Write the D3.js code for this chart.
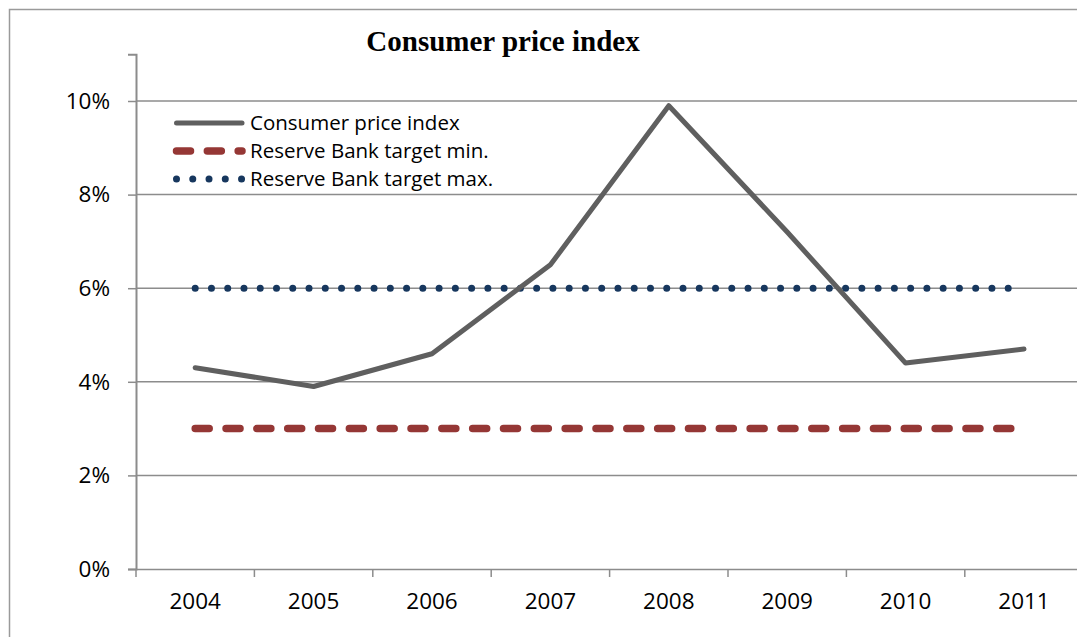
<!DOCTYPE html>
<html><head><meta charset="utf-8">
<script src="https://cdn.jsdelivr.net/npm/d3@7"></script>
<style>body{margin:0;background:#fff}svg{display:block}</style>
</head><body>
<script>
const years = ["2004","2005","2006","2007","2008","2009","2010","2011"];
const cpi = [4.3, 3.9, 4.6, 6.5, 9.9, 7.2, 4.4, 4.7];
const targetMin = [3, 3, 3, 3, 3, 3, 3, 3];
const targetMax = [6, 6, 6, 6, 6, 6, 6, 6];
const yTicks = [0, 2, 4, 6, 8, 10];
const seriesNames = ["Consumer price index", "Reserve Bank target min.", "Reserve Bank target max."];

const W = 1077, H = 637;
const svg = d3.select("body").append("svg").attr("width", W).attr("height", H);
const font = "'Open Sans', sans-serif";

svg.append("rect").attr("x", 9.5).attr("y", 9.5).attr("width", 1200).attr("height", 800)
  .attr("fill", "none").attr("stroke", "#9a9a9a").attr("stroke-width", 1.5);

const x = d3.scaleBand().domain(years).range([136, 136 + 8 * 118.4]);
const y = d3.scaleLinear().domain([0, 11]).range([569, 54.2]);

// gridlines
svg.append("g").selectAll("line").data(yTicks.filter(d => d > 0)).join("line")
  .attr("x1", 136).attr("x2", W + 10).attr("y1", d => y(d)).attr("y2", d => y(d))
  .attr("stroke", "#8c8c8c").attr("stroke-width", 1.5);

// y axis
const yAxis = svg.append("g").attr("transform", "translate(136,0)")
  .call(d3.axisLeft(y).tickValues(yTicks).tickSize(8).tickPadding(18).tickFormat(d => d + "%"));
yAxis.select(".domain").attr("stroke", "#8c8c8c").attr("stroke-width", 2);
yAxis.selectAll(".tick line").attr("stroke", "#8c8c8c").attr("stroke-width", 1.5);
yAxis.selectAll("text").attr("font-family", font).attr("font-size", 22.5).attr("fill", "#000");

// x axis
const xAxis = svg.append("g").attr("transform", "translate(0,569)")
  .call(d3.axisBottom(x).tickSize(0).tickPadding(24));
xAxis.select(".domain").attr("stroke", "#8c8c8c").attr("stroke-width", 1.5);
xAxis.selectAll("text").attr("font-family", font).attr("font-size", 22.5).attr("fill", "#000");
const bounds = years.map(d => x(d)).concat([x(years[7]) + x.bandwidth()]);
svg.append("g").selectAll("line").data(bounds).join("line")
  .attr("x1", d => d).attr("x2", d => d).attr("y1", 569).attr("y2", 577)
  .attr("stroke", "#8c8c8c").attr("stroke-width", 1.5);

const cx = (d, i) => x(years[i]) + x.bandwidth() / 2;
const line = d3.line().x(cx).y(d => y(d));

const styles = [
  {stroke: "#5f5f5f", width: 5, dash: null},
  {stroke: "#953735", width: 7.5, dash: "14,16.83"},
  {stroke: "#17375e", width: 7, dash: "0,16.26"}
];

[[targetMin, 1], [targetMax, 2], [cpi, 0]].forEach(([data, k]) => {
  const s = styles[k];
  svg.append("path").datum(data).attr("d", line).attr("fill", "none")
    .attr("stroke", s.stroke).attr("stroke-width", s.width)
    .attr("stroke-linecap", "round").attr("stroke-linejoin", "round")
    .attr("stroke-dasharray", s.dash);
});

// legend
const leg = svg.append("g");
seriesNames.forEach((name, i) => {
  const s = styles[i];
  const ly = 123 + i * 28;
  leg.append("line").attr("x1", 176.5).attr("x2", 242).attr("y1", ly).attr("y2", ly)
    .attr("stroke", s.stroke).attr("stroke-width", s.width)
    .attr("stroke-linecap", "round").attr("stroke-dasharray", s.dash);
  leg.append("text").attr("x", 250).attr("y", ly + 7).text(name)
    .attr("font-family", font).attr("font-size", 20.5).attr("fill", "#000");
});

svg.append("text").attr("x", 503).attr("y", 51).attr("text-anchor", "middle")
  .attr("font-family", "'Liberation Serif', serif").attr("font-weight", "bold")
  .attr("font-size", 29).text("Consumer price index");
</script>
</body></html>
